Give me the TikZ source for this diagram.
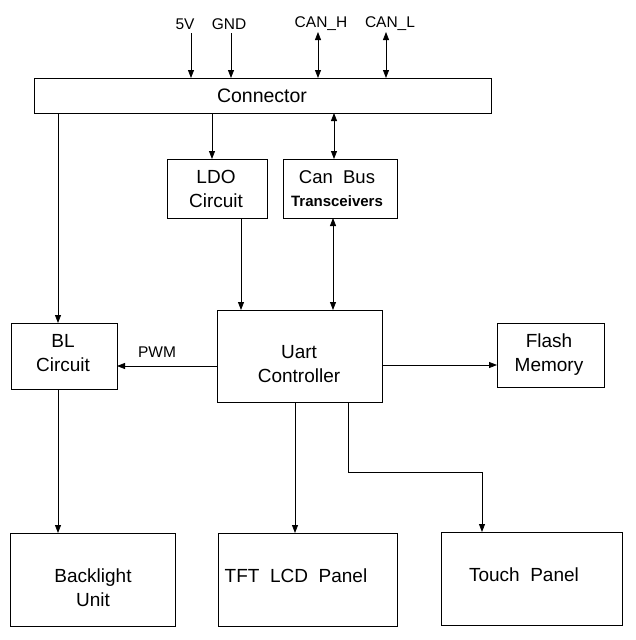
\documentclass[tikz,border=0pt]{standalone}
\usepackage{fontspec}
\setmainfont{Liberation Sans}
\usetikzlibrary{arrows.meta}
\begin{document}
\begin{tikzpicture}[x=1pt,y=-1pt,
  box/.style={draw,line width=0.8pt,inner sep=0pt,outer sep=0pt},
  lbl/.style={inner sep=0pt,font=\fontsize{19}{24}\selectfont,align=center},
  sig/.style={inner sep=0pt,font=\fontsize{15.5}{18}\selectfont},
  wire/.style={line width=0.8pt},
  arr/.style={wire,-{Triangle[length=8pt,width=6pt]}},
  dbl/.style={wire,{Triangle[length=8pt,width=6pt]}-{Triangle[length=8pt,width=6pt]}}]
\useasboundingbox (0,0) rectangle (636,640);
% boxes
\node[box,minimum width=457pt,minimum height=35pt] (conn) at (262.5,95.5) {};
\node[box,minimum width=100pt,minimum height=59pt] (ldo) at (217,188.5) {};
\node[box,minimum width=114pt,minimum height=59pt] (can) at (340,188.5) {};
\node[box,minimum width=106pt,minimum height=66pt] (bl) at (64,356) {};
\node[box,minimum width=165pt,minimum height=92pt] (uart) at (299.5,356) {};
\node[box,minimum width=107pt,minimum height=64pt] (flash) at (550.5,355) {};
\node[box,minimum width=165pt,minimum height=93pt] (back) at (92.5,579.5) {};
\node[box,minimum width=179pt,minimum height=93pt] (tft) at (307.5,579.5) {};
\node[box,minimum width=181pt,minimum height=93pt] (touch) at (531.5,578.5) {};
% texts
\node[lbl,font=\fontsize{19.5}{24}\selectfont] (tconn) at (262,96) {Connector};
\node[lbl] (tldo) at (216,189) {LDO\\Circuit};
\node[inner sep=0pt,align=center,font=\fontsize{18.5}{23}\selectfont] (tcan) at (337,189) {Can\ \ Bus\\{\fontsize{15}{23}\selectfont\bfseries Transceivers}};
\node[lbl] (tbl) at (63,353) {BL\\Circuit};
\node[lbl] (tuart) at (299,364) {Uart\\Controller};
\node[lbl] (tflash) at (549,355) {Flash\\Memory};
\node[lbl] (tback) at (93,588) {Backlight\\Unit};
\node[lbl] (ttft) at (296,576) {TFT\ \ LCD\ \ Panel};
\node[lbl] (ttouch) at (524,575) {Touch\ \ Panel};
\node[sig] (tpwm) at (157,352) {PWM};
\node[sig] (t5v) at (185,24) {5V};
\node[sig] (tgnd) at (229,24) {GND};
\node[sig] (tcanh) at (321,24) {CAN\_H};
\node[sig] (tcanl) at (390,24) {CAN\_L};
% free ends / routing coordinates
\coordinate (p5) at (191,33);
\coordinate (pg) at (231,33);
\coordinate (ph) at (318,32);
\coordinate (pl) at (386,32);
\coordinate (xa) at (212,0);
\coordinate (xb) at (334,0);
\coordinate (xc) at (58,0);
\coordinate (xd) at (241,0);
\coordinate (xe) at (333,0);
\coordinate (xf) at (295,0);
\coordinate (ya) at (0,366);
\coordinate (yb) at (0,365);
\coordinate (k1) at (348,472);
\coordinate (k2) at (482,472);
% connectors
\draw[arr] (p5) -- (p5 |- conn.north);
\draw[arr] (pg) -- (pg |- conn.north);
\draw[dbl] (ph) -- (ph |- conn.north);
\draw[dbl] (pl) -- (pl |- conn.north);
\draw[arr] (conn.south -| xa) -- (ldo.north -| xa);
\draw[dbl] (conn.south -| xb) -- (can.north -| xb);
\draw[arr] (conn.south -| xc) -- (bl.north -| xc);
\draw[arr] (ldo.south -| xd) -- (uart.north -| xd);
\draw[dbl] (can.south -| xe) -- (uart.north -| xe);
\draw[arr] (uart.west |- ya) -- (bl.east |- ya);
\draw[arr] (uart.east |- yb) -- (flash.west |- yb);
\draw[arr] (uart.south -| xf) -- (tft.north -| xf);
\draw[arr] (uart.south -| k1) -- (k1) -- (k2) -- (touch.north -| k2);
\draw[arr] (bl.south -| xc) -- (back.north -| xc);
\end{tikzpicture}
\end{document}
